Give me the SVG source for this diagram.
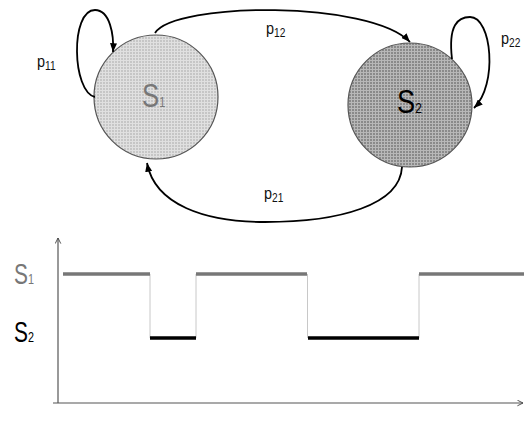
<svg xmlns="http://www.w3.org/2000/svg" width="524" height="439" viewBox="0 0 524 439">
  <defs>
    <pattern id="grid1" width="3" height="3" patternUnits="userSpaceOnUse">
      <rect width="3" height="3" fill="#c6c6c6"/>
      <path d="M0,0.5H3M0.5,0V3" stroke="#e0e0e0" stroke-width="1"/>
    </pattern>
    <pattern id="grid2" width="3" height="3" patternUnits="userSpaceOnUse">
      <rect width="3" height="3" fill="#8a8a8a"/>
      <path d="M0,0.5H3M0.5,0V3" stroke="#b8b8b8" stroke-width="1"/>
    </pattern>
    <marker id="ah" viewBox="0 0 10 8" refX="10" refY="4" markerWidth="9" markerHeight="7" markerUnits="userSpaceOnUse" orient="auto">
      <path d="M0,0 L10,4 L0,8 Z" fill="#000"/>
    </marker>
    <marker id="ch" viewBox="0 0 10 10" refX="9" refY="5" markerWidth="7" markerHeight="7" markerUnits="userSpaceOnUse" orient="auto">
      <path d="M1,1 L9,5 L1,9" fill="none" stroke="#444" stroke-width="1.3"/>
    </marker>
    <style>
      .node { stroke: #555; stroke-width: 1.2; }
      .conn { fill: none; stroke: #000; stroke-width: 1.8; marker-end: url(#ah); }
      text { font-family: "Liberation Sans", Arial, sans-serif; }
      .lbl { fill: #111; }
      .axis { stroke: #555; stroke-width: 1.2; fill: none; }
      .lv1 { stroke: #777; stroke-width: 3.5; }
      .lv2 { stroke: #000; stroke-width: 3.5; }
      .vt { stroke: #c8c8c8; stroke-width: 1; }
    </style>
  </defs>

  <g id="node-s1">
    <circle cx="156" cy="97" r="62" fill="url(#grid1)" class="node"/>
    <text transform="translate(142,107) scale(0.78,1)" fill="#777"><tspan font-size="33">S</tspan><tspan font-size="14">1</tspan></text>
  </g>

  <g id="node-s2">
    <circle cx="410" cy="105" r="62" fill="url(#grid2)" class="node"/>
    <text transform="translate(397,113) scale(0.8,1)" fill="#000"><tspan font-size="34">S</tspan><tspan font-size="15">2</tspan></text>
  </g>

  <g id="connectors">
    <path class="conn" d="M95,97 C72,92 70,10 95,10 C110,10 114,35 113,52"/>
    <path class="conn" d="M155,33 C175,2 370,0 410,42"/>
    <path class="conn" d="M452,59 C448,25 458,17 470,17 C492,17 498,85 474,108"/>
    <path class="conn" d="M402,167 C400,205 340,222 265,222 C205,222 155,205 147,163"/>
  </g>

  <g id="labels">
    <text class="lbl" transform="translate(37,67) scale(0.85,1)"><tspan font-size="17">p</tspan><tspan font-size="12" dy="3">11</tspan></text>
    <text class="lbl" transform="translate(266,34) scale(0.85,1)"><tspan font-size="17">p</tspan><tspan font-size="12" dy="3">12</tspan></text>
    <text class="lbl" transform="translate(501,44) scale(0.85,1)"><tspan font-size="17">p</tspan><tspan font-size="12" dy="3">22</tspan></text>
    <text class="lbl" transform="translate(264,199) scale(0.85,1)"><tspan font-size="17">p</tspan><tspan font-size="12" dy="3">21</tspan></text>
  </g>

  <g id="chart">
    <line class="axis" x1="58" y1="403" x2="58" y2="238" marker-end="url(#ch)"/>
    <line class="axis" x1="53" y1="403" x2="523" y2="403" marker-end="url(#ch)"/>
    <line class="vt" x1="150" y1="274" x2="150" y2="338"/>
    <line class="vt" x1="196" y1="274" x2="196" y2="338"/>
    <line class="vt" x1="307.5" y1="274" x2="307.5" y2="338"/>
    <line class="vt" x1="419" y1="274" x2="419" y2="338"/>
    <line class="lv1" x1="63" y1="274" x2="150" y2="274"/>
    <line class="lv2" x1="150" y1="338" x2="196" y2="338"/>
    <line class="lv1" x1="196" y1="274" x2="307" y2="274"/>
    <line class="lv2" x1="308" y1="338" x2="419" y2="338"/>
    <line class="lv1" x1="419" y1="274" x2="524" y2="274"/>
    <text transform="translate(14,284) scale(0.72,1)" fill="#777"><tspan font-size="29">S</tspan><tspan font-size="15">1</tspan></text>
    <text transform="translate(14,342) scale(0.72,1)" fill="#000"><tspan font-size="29">S</tspan><tspan font-size="15">2</tspan></text>
  </g>
</svg>
